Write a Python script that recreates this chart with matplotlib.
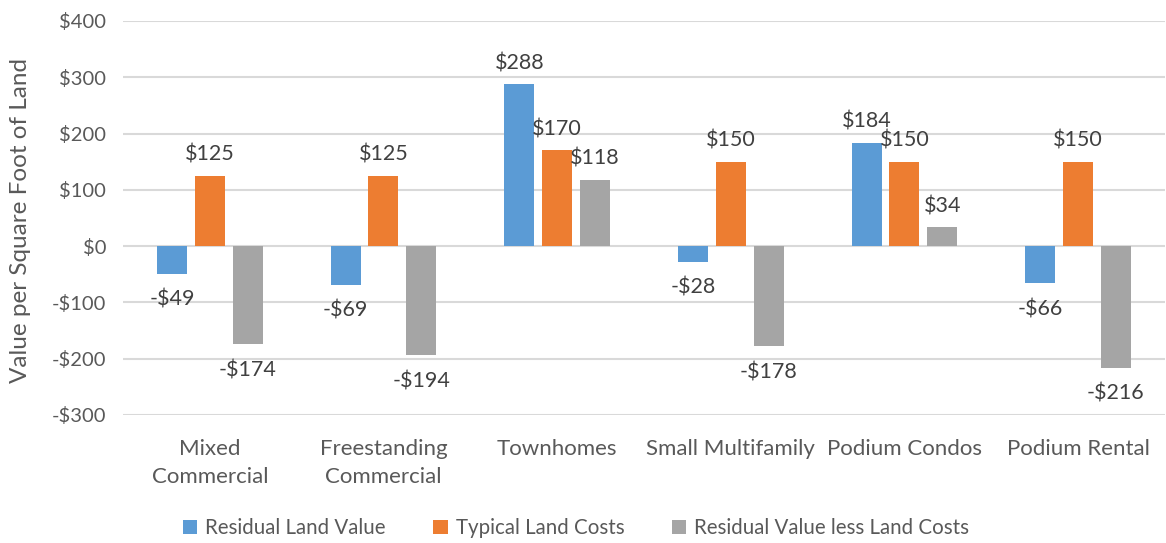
import matplotlib
matplotlib.use("Agg")
import matplotlib.pyplot as plt
import numpy as np
from matplotlib.patches import Patch

categories = ["Mixed\nCommercial", "Freestanding\nCommercial", "Townhomes",
              "Small Multifamily", "Podium Condos", "Podium Rental"]
residual_land_value = [-49, -69, 288, -28, 184, -66]
typical_land_costs = [125, 125, 170, 150, 150, 150]
residual_less_costs = [-174, -194, 118, -178, 34, -216]
series_names = ["Residual Land Value", "Typical Land Costs", "Residual Value less Land Costs"]
y_ticks = [-300, -200, -100, 0, 100, 200, 300, 400]

colors = ["#5B9BD5", "#ED7D31", "#A5A5A5"]
text_color = "#595959"
label_color = "#404040"

plt.rcParams['font.family'] = ['Lato', 'DejaVu Sans']

fig = plt.figure(figsize=(11.66, 5.43), dpi=100)
ax = fig.add_axes([123/1166, 1-415/543, 1-123/1166 - 0.001, (415-21)/543])

x = np.arange(len(categories))
width = 0.173
step = 0.218
series = [residual_land_value, typical_land_costs, residual_less_costs]
for i, (vals, c) in enumerate(zip(series, colors)):
    pos = x + (i - 1) * step
    ax.bar(pos, vals, width=width, color=c, zorder=3)
    for px, v in zip(pos, vals):
        lab = f"${v}" if v >= 0 else f"-${abs(v)}"
        if v >= 0:
            ax.annotate(lab, (px, v), xytext=(0, 11), textcoords='offset pixels',
                        ha='center', va='bottom', fontsize=15.5, color=label_color)
        else:
            ax.annotate(lab, (px, v), xytext=(0, -16), textcoords='offset pixels',
                        ha='center', va='top', fontsize=15.5, color=label_color)

ax.set_xlim(-0.5, len(categories) - 0.5)
ax.set_ylim(-300, 400)
ax.set_yticks(y_ticks)
ax.set_yticklabels([f"${t}" if t >= 0 else f"-${abs(t)}" for t in y_ticks])
ax.set_xticks(x)
ax.set_xticklabels(categories, linespacing=1.5, fontsize=16)
ax.tick_params(axis='both', length=0, colors=text_color)
ax.tick_params(axis='y', labelsize=14.5, pad=12)
ax.tick_params(axis='x', pad=17)
for s in ax.spines.values():
    s.set_visible(False)
ax.yaxis.grid(True, color="#D9D9D9", linewidth=1.5, zorder=0)
ax.set_axisbelow(True)

fig.text(21/1166, 1-220/543, "Value per Square Foot of Land", rotation=90,
         ha='center', va='center', fontsize=17.5, color=text_color)

handles = [Patch(facecolor=c, edgecolor='none') for c in colors]
fig.legend(handles, series_names, loc='center', bbox_to_anchor=(576/1166, 1-528/543),
           ncol=3, frameon=False, fontsize=14.8, handlelength=0.7, handleheight=0.7,
           handletextpad=0.4, columnspacing=2.3, labelcolor=text_color)

fig.savefig("out.png", dpi=100)
